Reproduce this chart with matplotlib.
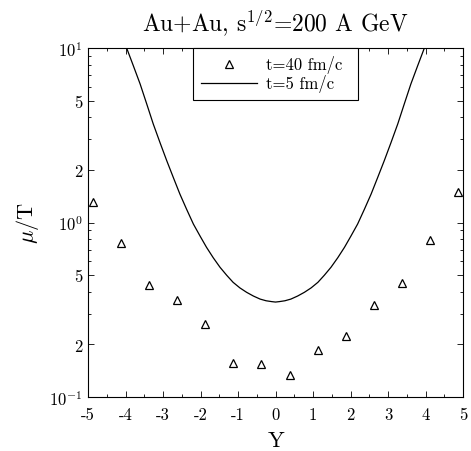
import numpy as np
import matplotlib
matplotlib.use("Agg")
import matplotlib.pyplot as plt
from matplotlib.ticker import FixedLocator, NullFormatter

plt.rcParams['font.family'] = 'serif'
plt.rcParams['font.serif'] = ['cmr10', 'DejaVu Serif']
plt.rcParams['mathtext.fontset'] = 'cm'
plt.rcParams['axes.formatter.use_mathtext'] = True

# t=40 fm/c points (triangles)
rap_40 = [-4.875, -4.125, -3.375, -2.625, -1.875, -1.125, -0.375,
          0.375, 1.125, 1.875, 2.625, 3.375, 4.125, 4.875]
mu_40 = [1.31, 0.76, 0.44, 0.36, 0.262, 0.157, 0.155,
         0.134, 0.185, 0.223, 0.337, 0.452, 0.79, 1.50]

# t=5 fm/c curve (solid line)
rap_5 = [-4.3, -3.97, -3.79, -3.61, -3.43, -3.26, -3.08, -2.90, -2.72, -2.55,
         -2.37, -2.19, -2.01, -1.84, -1.66, -1.48, -1.30, -1.13, -0.95, -0.77,
         -0.59, -0.41, -0.25, -0.10, 0.0, 0.10, 0.25, 0.41, 0.59, 0.77,
         0.95, 1.13, 1.30, 1.48, 1.66, 1.84, 2.01, 2.19, 2.37, 2.55,
         2.72, 2.90, 3.08, 3.26, 3.43, 3.61, 3.79, 3.97, 4.3]
mu_5 = [14.0, 10.0, 7.9, 6.22, 4.75, 3.67, 2.87, 2.26, 1.80, 1.456,
        1.19, 0.98, 0.835, 0.721, 0.628, 0.554, 0.498, 0.454, 0.422, 0.398,
        0.379, 0.364, 0.356, 0.352, 0.350, 0.352, 0.356, 0.364, 0.379, 0.398,
        0.422, 0.454, 0.498, 0.554, 0.628, 0.721, 0.835, 0.98, 1.19, 1.456,
        1.80, 2.26, 2.87, 3.67, 4.75, 6.22, 7.9, 10.0, 14.0]

x_ticks = [-5, -4, -3, -2, -1, 0, 1, 2, 3, 4, 5]
x_labels = ['-5', '-4', '-3', '-2', '-1', '0', '1', '2', '3', '4', '5']
y_ticks = [0.1, 0.2, 0.5, 1, 2, 5, 10]
y_labels = [r'$10^{-1}$', '2', '5', r'$10^{0}$', '2', '5', r'$10^{1}$']

fig = plt.figure(figsize=(4.71, 4.52), dpi=100)
ax = fig.add_axes([88/471, 1-398/452, 375/471, 349/452])

ax.plot(rap_40, mu_40, '^', mfc='none', mec='black', ms=6, mew=0.9,
        label='t=40 fm/c', clip_on=False)
ax.plot(rap_5, mu_5, '-', color='black', lw=0.9, label='t=5 fm/c')

ax.set_yscale('log')
ax.set_xlim(-5, 5)
ax.set_ylim(0.1, 10)

ax.set_xticks(x_ticks)
ax.set_xticklabels(x_labels)
ax.xaxis.set_minor_locator(FixedLocator(np.arange(-4.5, 5, 1.0)))

minor_y = [v * d for d in (0.1, 1) for v in (2, 3, 4, 5, 6, 7, 8, 9)]
ax.yaxis.set_major_locator(FixedLocator(y_ticks))
ax.yaxis.set_minor_locator(FixedLocator(minor_y))
ax.set_yticklabels(y_labels)
ax.yaxis.set_minor_formatter(NullFormatter())

ax.tick_params(which='both', direction='in', top=True, right=True,
               labelsize=12, width=0.6)
ax.tick_params(which='major', length=4)
ax.tick_params(which='minor', length=2)
ax.tick_params(axis='y', pad=4)
ax.tick_params(axis='x', pad=7)
for s in ax.spines.values():
    s.set_linewidth(0.8)

ax.set_xlabel('Y', fontsize=16, labelpad=6)
ax.set_ylabel(r'$\mu$/T', fontsize=16, labelpad=6)
ax.set_title(r'Au+Au, s$^{1/2}$=200 A GeV', fontsize=17, pad=13)

leg = ax.legend(loc='upper left', bbox_to_anchor=(0.28, 0.0, 0.44, 1.0),
                mode='expand', fontsize=12, frameon=True, fancybox=False,
                edgecolor='black', framealpha=1, borderpad=0.45,
                handlelength=3.4, handletextpad=0.5, labelspacing=0.05,
                borderaxespad=0)
leg.get_frame().set_linewidth(0.8)

fig.savefig('out.png', dpi=100)
